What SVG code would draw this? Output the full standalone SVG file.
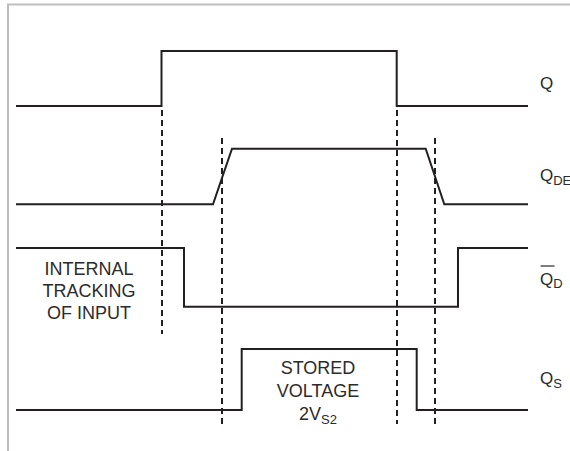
<svg xmlns="http://www.w3.org/2000/svg" width="570" height="451" viewBox="0 0 570 451">
<style>
.sig{fill:none;stroke:#231f20;stroke-width:2;stroke-linejoin:miter}
.dash{fill:none;stroke:#231f20;stroke-width:2;stroke-dasharray:6,4}
.frame{fill:none;stroke:#bdbdbd;stroke-width:2}
text{font-family:"Liberation Sans",Arial,sans-serif;fill:#2b2b2b}
.lbl{font-size:17px}
.sub{font-size:13px}
.note{font-size:18px;text-anchor:middle}
</style>
<rect width="570" height="451" fill="#fff"/>
<path class="frame" d="M8,451 V4.5 H570"/>
<g id="connectors">
<path class="dash" d="M162,110 V334"/>
<path class="dash" d="M222,138 V424"/>
<path class="dash" d="M397,110 V424"/>
<path class="dash" d="M435,138 V424"/>
</g>
<g id="Q">
<path class="sig" d="M16,106 H161.5 V51 H396.7 V106 H528"/>
<text class="lbl" x="540" y="89">Q</text>
</g>
<g id="QDE">
<path class="sig" d="M16,204.3 H213 L232,148.7 H425.7 L444.3,204.3 H528"/>
<text class="lbl" x="540" y="181">Q<tspan class="sub" dy="4">DE</tspan></text>
</g>
<g id="QDbar">
<path class="sig" d="M16,248 H184 V306.7 H458 V248 H528"/>
<path d="M540.5,266 H554.5" stroke="#2b2b2b" stroke-width="1.2"/>
<text class="lbl" x="540" y="285">Q<tspan class="sub" dy="3">D</tspan></text>
</g>
<g id="QS">
<path class="sig" d="M16,410 H241.7 V349 H416.7 V410 H528"/>
<text class="lbl" x="540" y="384">Q<tspan class="sub" dy="4">S</tspan></text>
</g>
<g id="tracking">
<text class="note" x="89" y="275">INTERNAL</text>
<text class="note" x="89" y="297">TRACKING</text>
<text class="note" x="89" y="319">OF INPUT</text>
</g>
<g id="stored">
<text class="note" x="318" y="374">STORED</text>
<text class="note" x="318" y="397">VOLTAGE</text>
<text class="note" x="318" y="420">2V<tspan class="sub" font-size="14" dy="4">S2</tspan></text>
</g>
</svg>
